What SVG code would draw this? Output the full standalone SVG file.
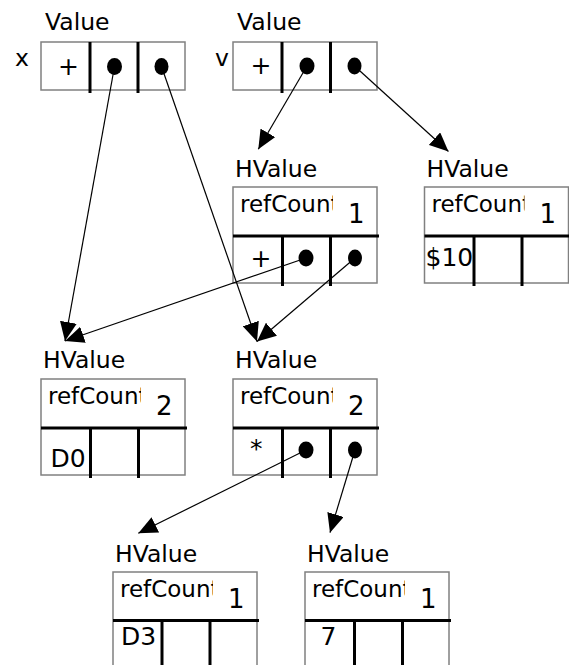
<svg xmlns="http://www.w3.org/2000/svg" width="569" height="665" viewBox="0 0 569 665">
  <defs>
    <style>
      text { font-family: "DejaVu Sans", "Noto Sans", sans-serif; fill: #000; }
      .lbl { font-size: 23.5px; }
      .rc { font-size: 23px; }
      .num { font-size: 26px; }
      .val { font-size: 25px; }
      .box { fill: #fff; stroke: #808080; stroke-width: 1.5; }
      .div { stroke: #000; stroke-width: 3; }
      .sep { stroke: #000; stroke-width: 3; }
      .dot { fill: #000; }
      .conn line { stroke: #000; stroke-width: 1.2; marker-end: url(#head); }
    </style>
    <marker id="head" viewBox="0 0 19 17" markerWidth="19" markerHeight="17" refX="19" refY="8.5" orient="auto" markerUnits="userSpaceOnUse">
      <path d="M0,0 L19,8.5 L0,17 z" fill="#000"/>
    </marker>
    <!-- header text is cut off inside the first two cells -->
    <clipPath id="rcClip" clipPathUnits="userSpaceOnUse">
      <rect x="0" y="0" width="100" height="48"/>
    </clipPath>
  </defs>

  <!-- Value x -->
  <g id="value-x" transform="translate(41,42)">
    <text class="lbl" x="4" y="-12">Value</text>
    <text class="lbl" x="-26" y="24">x</text>
    <rect class="box" x="0" y="0" width="144" height="48"/>
    <line class="div" x1="49" y1="0" x2="49" y2="51"/>
    <line class="div" x1="97" y1="0" x2="97" y2="51"/>
    <text class="val" x="17" y="33">+</text>
    <ellipse class="dot" cx="73.5" cy="24.5" rx="7.5" ry="8.5"/>
    <ellipse class="dot" cx="120.5" cy="24.5" rx="7" ry="8.5"/>
  </g>

  <!-- Value v -->
  <g id="value-v" transform="translate(233,42)">
    <text class="lbl" x="4" y="-12">Value</text>
    <text class="lbl" x="-18" y="24">v</text>
    <rect class="box" x="0" y="0" width="144" height="48"/>
    <line class="div" x1="49" y1="0" x2="49" y2="51"/>
    <line class="div" x1="97.5" y1="0" x2="97.5" y2="51"/>
    <text class="val" x="17.5" y="31.5">+</text>
    <ellipse class="dot" cx="74" cy="24" rx="7.5" ry="8.5"/>
    <ellipse class="dot" cx="121.5" cy="24" rx="7" ry="8.5"/>
  </g>

  <!-- HValue A -->
  <g id="hvalue-a" transform="translate(233,187)">
    <text class="lbl" x="2" y="-10">HValue</text>
    <rect class="box" x="0" y="0" width="144" height="96"/>
    <text class="rc" x="7" y="25" clip-path="url(#rcClip)">refCount</text>
    <text class="num" x="115" y="36">1</text>
    <line class="sep" x1="0" y1="49" x2="146" y2="49"/>
    <line class="div" x1="49.5" y1="49" x2="49.5" y2="99"/>
    <line class="div" x1="97.5" y1="49" x2="97.5" y2="99"/>
    <text class="val" x="17.5" y="79.5">+</text>
    <ellipse class="dot" cx="73" cy="71" rx="7.5" ry="8.5"/>
    <ellipse class="dot" cx="122" cy="71" rx="7" ry="8.5"/>
  </g>

  <!-- HValue B -->
  <g id="hvalue-b" transform="translate(424.5,187)">
    <text class="lbl" x="2" y="-10">HValue</text>
    <rect class="box" x="0" y="0" width="144" height="96"/>
    <text class="rc" x="7" y="25" clip-path="url(#rcClip)">refCount</text>
    <text class="num" x="115" y="36">1</text>
    <line class="sep" x1="0" y1="49" x2="146" y2="49"/>
    <line class="div" x1="49.5" y1="49" x2="49.5" y2="99"/>
    <line class="div" x1="97.5" y1="49" x2="97.5" y2="99"/>
    <text class="val" x="1" y="79">$10</text>
  </g>

  <!-- HValue C -->
  <g id="hvalue-c" transform="translate(41,379)">
    <text class="lbl" x="2" y="-11">HValue</text>
    <rect class="box" x="0" y="0" width="144" height="96"/>
    <text class="rc" x="7" y="25" clip-path="url(#rcClip)">refCount</text>
    <text class="num" x="115" y="36">2</text>
    <line class="sep" x1="0" y1="49" x2="146" y2="49"/>
    <line class="div" x1="49.5" y1="49" x2="49.5" y2="99"/>
    <line class="div" x1="97.5" y1="49" x2="97.5" y2="99"/>
    <text class="val" x="9.5" y="87.5">D0</text>
  </g>

  <!-- HValue D -->
  <g id="hvalue-d" transform="translate(233,379)">
    <text class="lbl" x="2" y="-11">HValue</text>
    <rect class="box" x="0" y="0" width="144" height="96"/>
    <text class="rc" x="7" y="25" clip-path="url(#rcClip)">refCount</text>
    <text class="num" x="115" y="36">2</text>
    <line class="sep" x1="0" y1="49" x2="146" y2="49"/>
    <line class="div" x1="49.5" y1="49" x2="49.5" y2="99"/>
    <line class="div" x1="97.5" y1="49" x2="97.5" y2="99"/>
    <text class="val" x="17" y="78">*</text>
    <ellipse class="dot" cx="73" cy="71" rx="7.5" ry="8.5"/>
    <ellipse class="dot" cx="122" cy="71" rx="7" ry="8.5"/>
  </g>

  <!-- HValue E -->
  <g id="hvalue-e" transform="translate(113,572)">
    <text class="lbl" x="2" y="-10">HValue</text>
    <rect class="box" x="0" y="0" width="144" height="96"/>
    <text class="rc" x="7" y="25" clip-path="url(#rcClip)">refCount</text>
    <text class="num" x="115" y="36">1</text>
    <line class="sep" x1="0" y1="48.5" x2="146" y2="48.5"/>
    <line class="div" x1="49" y1="48.5" x2="49" y2="99"/>
    <line class="div" x1="97" y1="48.5" x2="97" y2="99"/>
    <text class="val" x="8" y="73">D3</text>
  </g>

  <!-- HValue F -->
  <g id="hvalue-f" transform="translate(305,572)">
    <text class="lbl" x="2" y="-10">HValue</text>
    <rect class="box" x="0" y="0" width="144" height="96"/>
    <text class="rc" x="7" y="25" clip-path="url(#rcClip)">refCount</text>
    <text class="num" x="115" y="36">1</text>
    <line class="sep" x1="0" y1="48.5" x2="146" y2="48.5"/>
    <line class="div" x1="49.5" y1="48.5" x2="49.5" y2="99"/>
    <line class="div" x1="97.5" y1="48.5" x2="97.5" y2="99"/>
    <text class="val" x="15.5" y="73">7</text>
  </g>

  <!-- pointers -->
  <g id="connectors" class="conn">
    <line x1="114.5" y1="66.5" x2="65" y2="341"/>
    <line x1="161.5" y1="66.5" x2="257" y2="341.5"/>
    <line x1="307" y1="66" x2="258.3" y2="149.3"/>
    <line x1="354.5" y1="66" x2="448.5" y2="151.5"/>
    <line x1="306" y1="258" x2="65" y2="341"/>
    <line x1="355" y1="258" x2="257" y2="341.5"/>
    <line x1="306" y1="450" x2="138.3" y2="533.3"/>
    <line x1="355" y1="450" x2="330" y2="532.7"/>
  </g>
</svg>
